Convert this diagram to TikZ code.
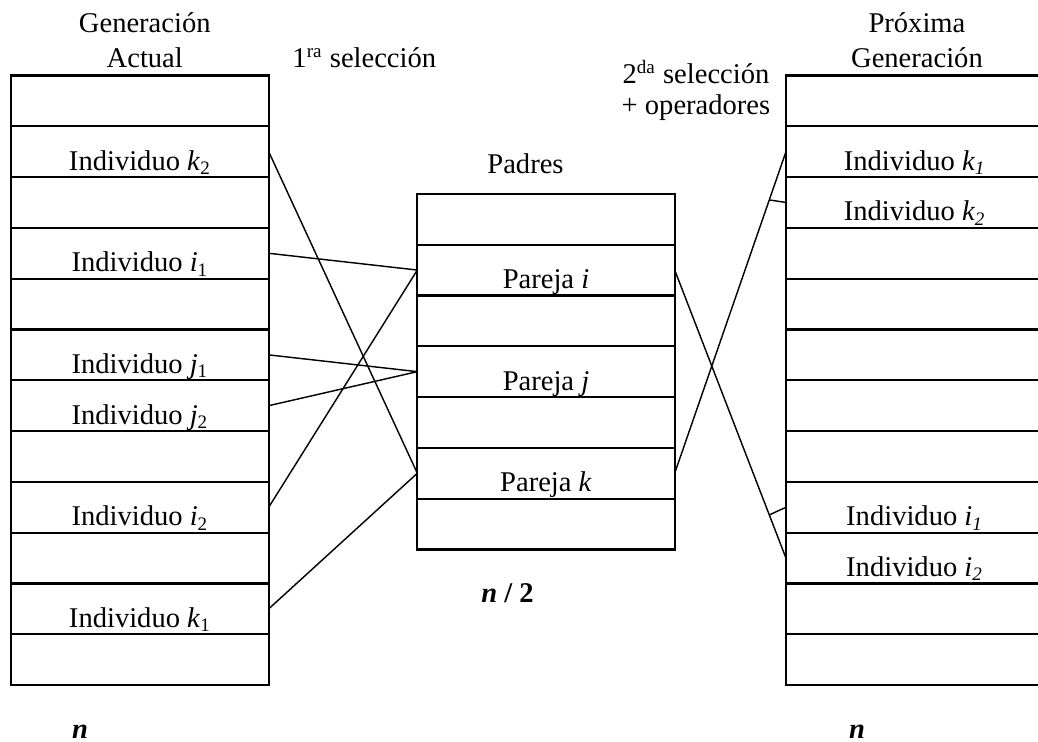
\documentclass[tikz,border=0pt]{standalone}
\usepackage{fontspec}
\setmainfont{Liberation Serif}

\begin{document}
\begin{tikzpicture}[x=0.75cm, y=0.75cm,
    every node/.style={font=\fontsize{12}{14.7}\selectfont},
    cell/.style={draw, line width=0.9pt, minimum width=3.8cm, minimum height=0.75cm,
      inner sep=0pt, outer sep=0pt, text height=15.5pt, text depth=0pt},
    link/.style={line width=0.6pt}]
  \clip (0,0) rectangle (20.433,14.606);

  \foreach \i/\txt in {1/{}, 2/{Individuo \textit{k}\textsubscript{2}}, 3/{},
      4/{Individuo \textit{i}\textsubscript{1}}, 5/{}, 6/{Individuo \textit{j}\textsubscript{1}},
      7/{Individuo \textit{j}\textsubscript{2}}, 8/{}, 9/{Individuo \textit{i}\textsubscript{2}},
      10/{}, 11/{Individuo \textit{k}\textsubscript{1}}, 12/{}}
    \node[cell] (g\i) at (2.756,13.62-\i) {\txt};

  \foreach \i/\txt in {1/{}, 2/{Pareja \textit{i}}, 3/{}, 4/{Pareja \textit{j}}, 5/{},
      6/{Pareja \textit{k}}, 7/{}}
    \node[cell] (p\i) at (10.748,11.29-\i) {\txt};

  \foreach \i/\txt in {1/{}, 2/{Individuo \textit{k\textsubscript{1}}}, 3/{Individuo \textit{k\textsubscript{2}}},
      4/{}, 5/{}, 6/{}, 7/{}, 8/{}, 9/{Individuo \textit{i\textsubscript{1}}},
      10/{Individuo \textit{i\textsubscript{2}}}, 11/{}, 12/{}}
    \node[cell] (s\i) at (18.005,13.62-\i) {\txt};

  \node[anchor=south, align=center, inner sep=0pt] (gen) at (2.85,13.268) {Generación\\Actual};
  \node[anchor=base west, inner sep=0pt] (sel1) at (5.748,13.268) {1\textsuperscript{ra} selección};
  \node[anchor=base, inner sep=0pt] (padres) at (10.344,11.20) {Padres};
  \node[anchor=south, align=center, inner sep=0pt, font=\fontsize{12}{13}\selectfont] (sel2)
    at (13.70,12.22) {2\textsuperscript{da} selección\\+ operadores};
  \node[anchor=south, align=center, inner sep=0pt] (prox) at (18.05,13.268) {Próxima\\Generación};
  \node[anchor=base, inner sep=0pt] (ngen) at (1.575,0.07) {\textbf{\textit{n}}};
  \node[anchor=base, inner sep=0pt] (npad) at (9.99,2.736) {\textbf{\textit{n} / 2}};
  \node[anchor=base, inner sep=0pt] (nprox) at (16.87,0.07) {\textbf{\textit{n}}};

  \draw[link] (g2.east) -- (p6.west);
  \draw[link] (g4.east) -- (p2.west);
  \draw[link] (g6.east) -- (p4.west);
  \draw[link] (g7.east) -- (p4.west);
  \draw[link] (g9.east) -- (p2.west);
  \draw[link] (g11.east) -- (p6.west);

  \draw[link] (p6.east) -- coordinate[pos=0.85] (bk) (s2.west);
  \draw[link] (s3.west) -- (bk);
  \draw[link] (p2.east) -- coordinate[pos=0.85] (bi) (s10.west);
  \draw[link] (s9.west) -- (bi);
\end{tikzpicture}
\end{document}
